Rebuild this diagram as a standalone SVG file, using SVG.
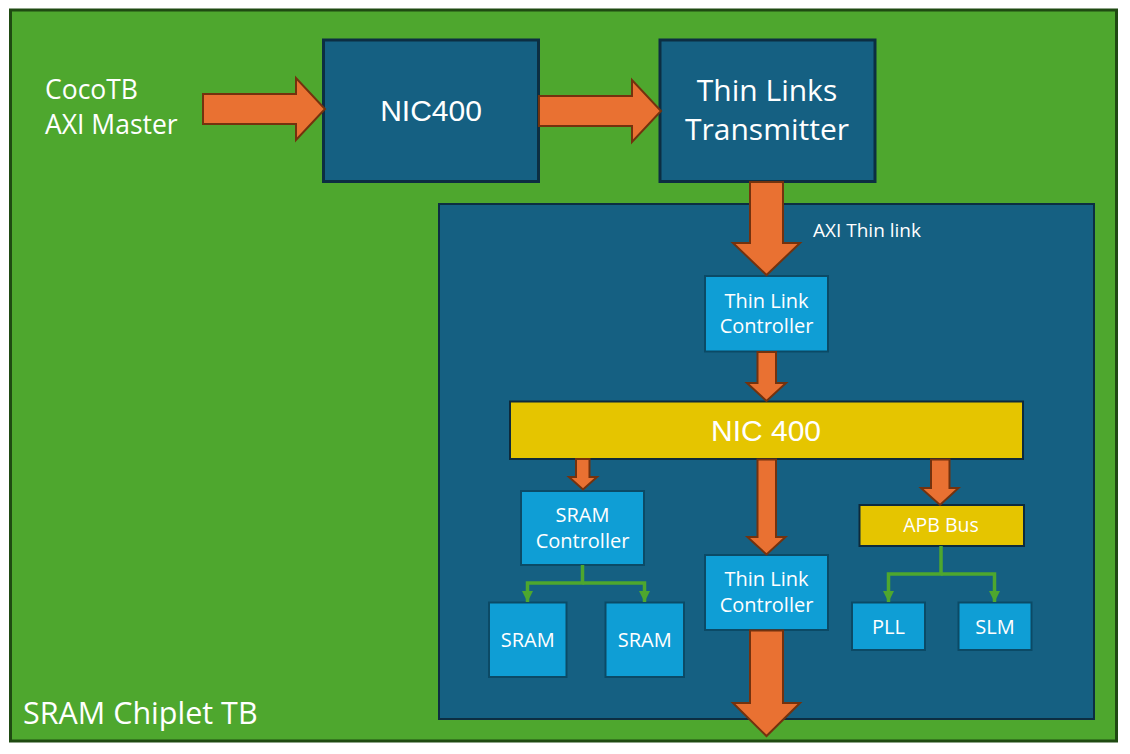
<svg xmlns="http://www.w3.org/2000/svg" width="1130" height="754" viewBox="0 0 1130 754">
<defs>
<style>
.t{font-family:"Open Sans","Liberation Sans",sans-serif;fill:#ffffff;text-anchor:middle}
.a{font-family:"Liberation Sans",Arial,sans-serif;fill:#ffffff;text-anchor:middle}
.dk{fill:#156082;stroke:#0c2e42;stroke-width:3}
.lb{fill:#0f9ed5;stroke:#0b4a66;stroke-width:2}
.yl{fill:#e5c500;stroke:#0d2a3c;stroke-width:2}
.arr{fill:#e97132;stroke:#73320e;stroke-width:2;stroke-linejoin:miter}
.gl{fill:none;stroke:#4ea72e;stroke-width:3.5}
</style>
<marker id="gh" viewBox="0 0 10 10" refX="10" refY="5" markerWidth="11" markerHeight="11" markerUnits="userSpaceOnUse" orient="auto">
<path d="M0,0 L10,5 L0,10 z" fill="#4ea72e"/>
</marker>
</defs>
<rect x="0" y="0" width="1130" height="754" fill="#ffffff"/>
<g id="tb">
<rect x="10.5" y="10" width="1106" height="731" fill="#4ea72e" stroke="#1f4a12" stroke-width="3"/>
<text class="t" x="23" y="724" font-size="30.5" style="text-anchor:start">SRAM Chiplet TB</text>
</g>
<g id="master">
<text class="t" x="45" y="99" font-size="26.5" style="text-anchor:start">CocoTB</text>
<text class="t" x="45" y="134" font-size="26.5" style="text-anchor:start">AXI Master</text>
</g>
<g id="chiplet">
<rect x="439" y="204" width="655" height="515" fill="#156082" stroke="#0c2e42" stroke-width="2"/>
<text class="t" x="813" y="237" font-size="19" style="text-anchor:start">AXI Thin link</text>
</g>
<g id="nic400-top">
<rect class="dk" x="323.5" y="40" width="215" height="141.5"/>
<text class="a" x="431" y="121" font-size="30">NIC400</text>
</g>
<g id="transmitter">
<rect class="dk" x="660" y="40" width="215" height="141.5"/>
<text class="t" x="767" y="101" font-size="30">Thin Links</text>
<text class="t" x="767" y="140" font-size="30">Transmitter</text>
</g>
<g id="tlc-top">
<rect class="lb" x="705" y="276" width="123" height="75.5"/>
<text class="t" x="766.5" y="308" font-size="20">Thin Link</text>
<text class="t" x="766.5" y="333" font-size="20">Controller</text>
</g>
<g id="nic400-inner">
<rect class="yl" x="510" y="401.5" width="513" height="57.5"/>
<text class="a" x="766" y="441" font-size="30">NIC 400</text>
</g>
<g id="sram-ctrl">
<rect class="lb" x="521" y="491" width="123" height="74"/>
<text class="t" x="582.5" y="522" font-size="20">SRAM</text>
<text class="t" x="582.5" y="547.5" font-size="20">Controller</text>
</g>
<g id="sram1">
<rect class="lb" x="489" y="602.5" width="77.5" height="74.5"/>
<text class="t" x="527.7" y="647" font-size="20">SRAM</text>
</g>
<g id="sram2">
<rect class="lb" x="605.5" y="602.5" width="78.5" height="74.5"/>
<text class="t" x="644.7" y="647" font-size="20">SRAM</text>
</g>
<g id="tlc-bottom">
<rect class="lb" x="705" y="555" width="123" height="75"/>
<text class="t" x="766.5" y="586" font-size="20">Thin Link</text>
<text class="t" x="766.5" y="612" font-size="20">Controller</text>
</g>
<g id="apb">
<rect class="yl" x="859.5" y="505" width="164.5" height="41"/>
<text class="t" x="941" y="532" font-size="19.5">APB Bus</text>
</g>
<g id="pll">
<rect class="lb" x="852" y="602.5" width="73" height="47.5"/>
<text class="t" x="888.5" y="633.5" font-size="20">PLL</text>
</g>
<g id="slm">
<rect class="lb" x="958.5" y="602.5" width="73" height="47.5"/>
<text class="t" x="995" y="633.5" font-size="20">SLM</text>
</g>
<g id="connectors">
<polygon class="arr" points="203,94 296,94 296,78 325,109 296,140 296,124 203,124"/>
<polygon class="arr" points="539,96 632,96 632,80 661,111 632,142 632,126 539,126"/>
<polygon class="arr" points="750,182 783,182 783,243 800,243 766.5,275 733,243 750,243"/>
<polygon class="arr" points="757.5,352 776,352 776,383 786,383 766.5,401 747,383 757.5,383"/>
<polygon class="arr" points="576,459 589.5,459 589.5,477 597,477 583,489.5 569,477 576,477"/>
<polygon class="arr" points="757.5,459.5 776,459.5 776,537 785.5,537 766.5,554.5 747.5,537 757.5,537"/>
<polygon class="arr" points="931,459.5 949.5,459.5 949.5,488 958.5,488 940,505 921,488 931,488"/>
<polygon class="arr" points="750,630.5 783,630.5 783,703 800,703 766.5,736 733,703 750,703"/>
<path class="gl" d="M582.5,565 V583 H527.5 V602" marker-end="url(#gh)"/>
<path class="gl" d="M582.5,583 H644.5 V602" marker-end="url(#gh)"/>
<path class="gl" d="M941,546 V574 H888.5 V602" marker-end="url(#gh)"/>
<path class="gl" d="M941,574 H994.5 V602" marker-end="url(#gh)"/>
</g>
</svg>
